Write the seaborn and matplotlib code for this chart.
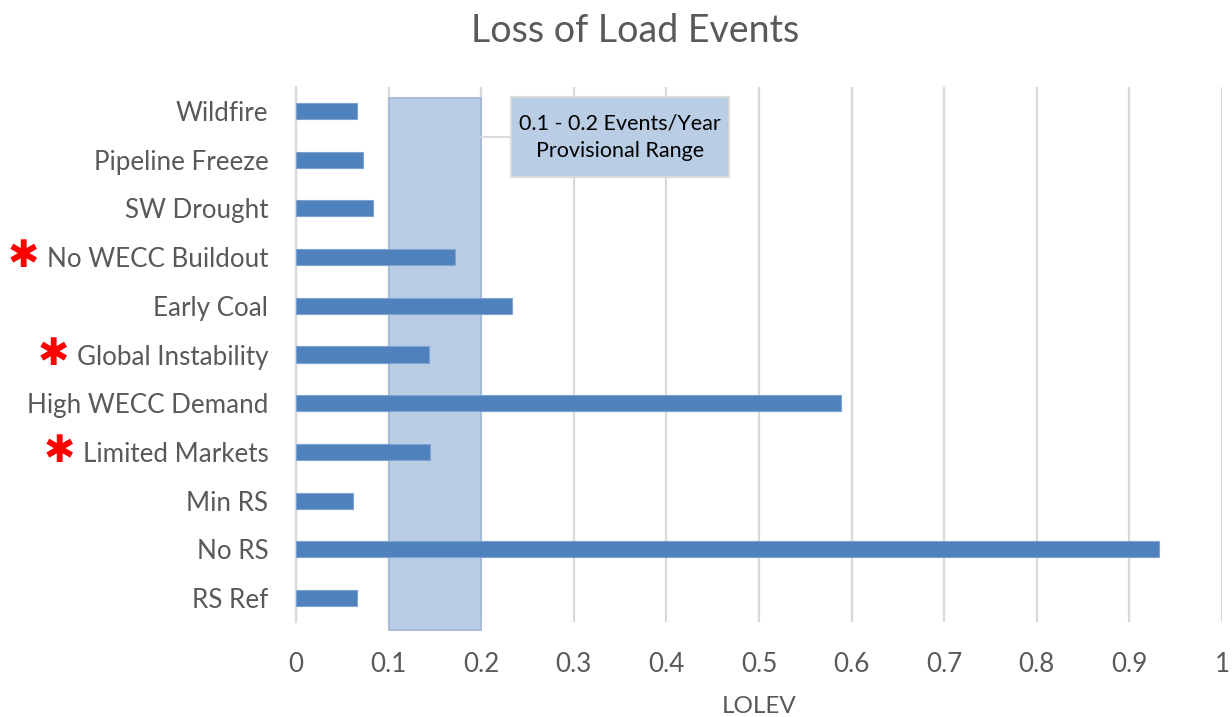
import matplotlib
matplotlib.use("Agg")
import matplotlib.pyplot as plt
import matplotlib.transforms as mtransforms
from matplotlib.patches import Rectangle
import seaborn as sns
import pandas as pd

# Scenario results (loss of load events per year)
scenarios = [
    "Wildfire", "Pipeline Freeze", "SW Drought", "No WECC Buildout",
    "Early Coal", "Global Instability", "High WECC Demand",
    "Limited Markets", "Min RS", "No RS", "RS Ref",
]
lolev = [0.066, 0.072, 0.083, 0.172, 0.233, 0.144, 0.588, 0.145, 0.061, 0.932, 0.066]
flagged = ["No WECC Buildout", "Global Instability", "Limited Markets"]

range_low, range_high = 0.1, 0.2
range_label = "0.1 - 0.2 Events/Year\nProvisional Range"
x_ticks = [0, 0.1, 0.2, 0.3, 0.4, 0.5, 0.6, 0.7, 0.8, 0.9, 1]
x_tick_labels = ["0", "0.1", "0.2", "0.3", "0.4", "0.5", "0.6", "0.7", "0.8", "0.9", "1"]

df = pd.DataFrame({"scenario": scenarios, "lolev": lolev})

sns.set_theme(style="white")
plt.rcParams["font.family"] = ["Lato", "DejaVu Sans"]

text_grey = "#595959"
grid_grey = "#D9D9D9"
bar_blue = "#4F81BD"
band_blue = "#B9CDE5"

fig = plt.figure(figsize=(12.32, 7.17), dpi=100)
ax = fig.add_axes([0.2403, 0.1319, 0.7516, 0.7473])

sns.barplot(data=df, x="lolev", y="scenario", order=scenarios, color=bar_blue,
            width=0.33, edgecolor="#7FA3D1", linewidth=0.8, saturation=1, ax=ax, zorder=3)

ax.set_xlim(0, 1)
ax.set_ylim(len(scenarios) - 0.5, -0.5)
ax.set_xticks(x_ticks)
ax.set_xticklabels(x_tick_labels)

# Vertical gridlines and axis line
ax.grid(axis="x", color=grid_grey, linewidth=1.6, zorder=0)
ax.set_axisbelow(True)
for side in ["top", "right", "bottom"]:
    ax.spines[side].set_visible(False)
ax.spines["left"].set_color(grid_grey)
ax.spines["left"].set_linewidth(1.6)
ax.tick_params(axis="both", length=0, labelsize=18.7, labelcolor=text_grey)
ax.tick_params(axis="y", pad=20)
ax.tick_params(axis="x", pad=21)

ax.set_ylabel("")
ax.set_xlabel("LOLEV", fontsize=17.5, color=text_grey, labelpad=14)

# Provisional range band
xa = mtransforms.blended_transform_factory(ax.transData, ax.transAxes)
band = Rectangle((range_low, -0.0142), range_high - range_low, 0.9932, transform=xa,
                 facecolor=band_blue, edgecolor="#9DB6D8", linewidth=1.2,
                 clip_on=False, zorder=1)
ax.add_patch(band)

# Callout box with connector
ax.plot([range_high, 0.232], [0.906, 0.906], transform=xa, color=grid_grey,
        linewidth=1.4, zorder=2, clip_on=False)
box = Rectangle((0.232, 0.831), 0.2356, 0.1496, transform=xa,
                facecolor=band_blue, edgecolor="#DADADA", linewidth=1.5,
                clip_on=False, zorder=4)
ax.add_patch(box)
ax.text(0.232 + 0.2356 / 2, 0.831 + 0.1496 / 2, range_label, transform=xa,
        ha="center", va="center", fontsize=15.5, color="black", linespacing=1.5,
        zorder=5)

# Title
fig.text(0.5155, 1 - 31 / 717, "Loss of Load Events", ha="center", va="center",
         fontsize=27, color=text_grey)

# Red asterisks beside flagged scenarios
fig.canvas.draw()
renderer = fig.canvas.get_renderer()
inv = fig.transFigure.inverted()
for lab in ax.get_yticklabels():
    if lab.get_text() in flagged:
        bb = lab.get_window_extent(renderer)
        x_fig = inv.transform((bb.x0 - 23, 0))[0]
        yi = scenarios.index(lab.get_text())
        tr = mtransforms.blended_transform_factory(fig.transFigure, ax.transData)
        fig.text(x_fig, yi, "\u2731", transform=tr, ha="center", va="center",
                 fontsize=27, color="#FF0000", family="DejaVu Sans")

fig.savefig("out.png", dpi=100)
